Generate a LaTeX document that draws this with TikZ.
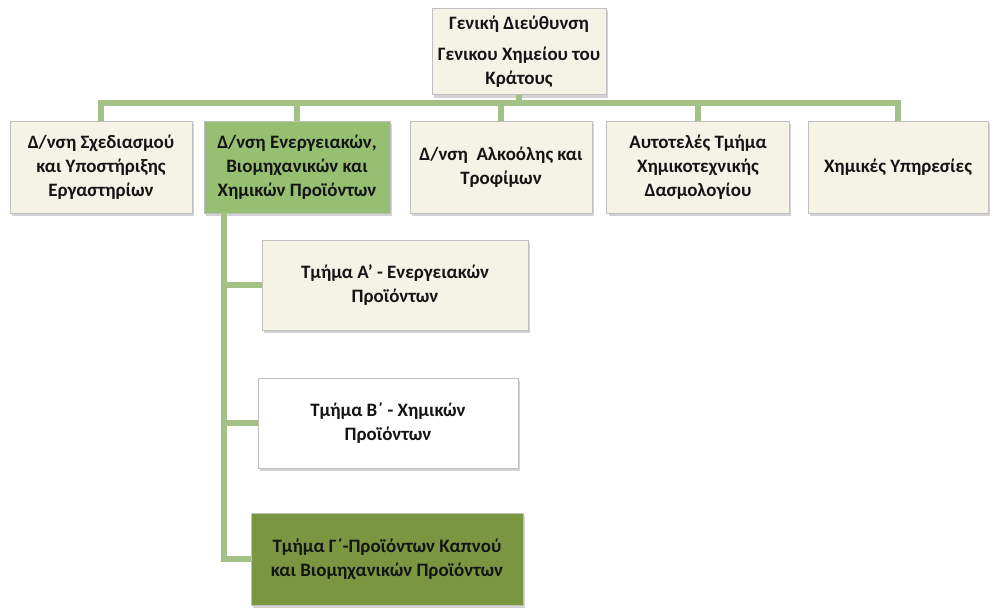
\documentclass[tikz,border=0pt]{standalone}
\usepackage{fontspec}
\setmainfont{Carlito}
\usetikzlibrary{shadows}

\definecolor{cream}{HTML}{F5F3E6}
\definecolor{leaf}{HTML}{97BF72}
\definecolor{olive}{HTML}{7A9640}
\definecolor{linkgreen}{HTML}{A3C184}
\definecolor{inkdark}{HTML}{141414}

\begin{document}
\begin{tikzpicture}[
  x=0.75pt, y=-0.75pt,
  font=\fontsize{14.2}{18}\selectfont\bfseries, text=inkdark,
  unit/.style={draw=black!25, line width=0.6pt, fill=cream, align=center,
               minimum height=69pt, inner sep=2pt,
               drop shadow={shadow xshift=1.5pt, shadow yshift=-2pt, opacity=0.35}},
  unitgreen/.style={unit, fill=leaf},
  unitolive/.style={unit, fill=olive},
  unitwhite/.style={unit, fill=white},
  link/.style={draw=linkgreen, line width=3.8pt},
]
  \useasboundingbox (0,0) rectangle (994,607);

  % links first, boxes on top
  \coordinate (bus) at (519,103);
  \coordinate (spine) at (224,212);

  \node[unit, minimum width=130.5pt, minimum height=65pt] (top) at (519,51.5)
    {Γενική Διεύθυνση\\[5pt]Γενικου Χημείου του\\Κράτους};

  \node[unit, minimum width=136.5pt] (d1) at (101,167)
    {Δ/νση Σχεδιασμού\\και Υποστήριξης\\Εργαστηρίων};
  \node[unitgreen, minimum width=139.5pt] (d2) at (297,167)
    {Δ/νση Ενεργειακών,\\Βιομηχανικών και\\Χημικών Προϊόντων};
  \node[unit, minimum width=136.5pt] (d3) at (501,167)
    {Δ/νση\ \ Αλκοόλης και\\Τροφίμων};
  \node[unit, minimum width=137pt] (d4) at (698,167)
    {Αυτοτελές Τμήμα\\Χημικοτεχνικής\\Δασμολογίου};
  \node[unit, minimum width=135pt] (d5) at (898,167)
    {Χημικές Υπηρεσίες};

  \node[unit, minimum width=199.5pt, minimum height=67.5pt] (tA) at (395,285)
    {Τμήμα Α' - Ενεργειακών\\Προϊόντων};
  \node[unitwhite, minimum width=195pt, minimum height=67.5pt] (tB) at (388,423)
    {Τμήμα Β΄ - Χημικών\\Προϊόντων};
  \node[unitolive, minimum width=204pt] (tC) at (387,559)
    {Τμήμα Γ΄-Προϊόντων Καπνού\\και Βιομηχανικών Προϊόντων};

  \draw[link] (top.south) -- (bus);
  \foreach \n in {d1,d2,d3,d4,d5}
    \draw[link] (bus) -| (\n.north);
  \foreach \n in {tA,tB,tC}
    \draw[link] (spine) |- (\n.west);
\end{tikzpicture}
\end{document}
